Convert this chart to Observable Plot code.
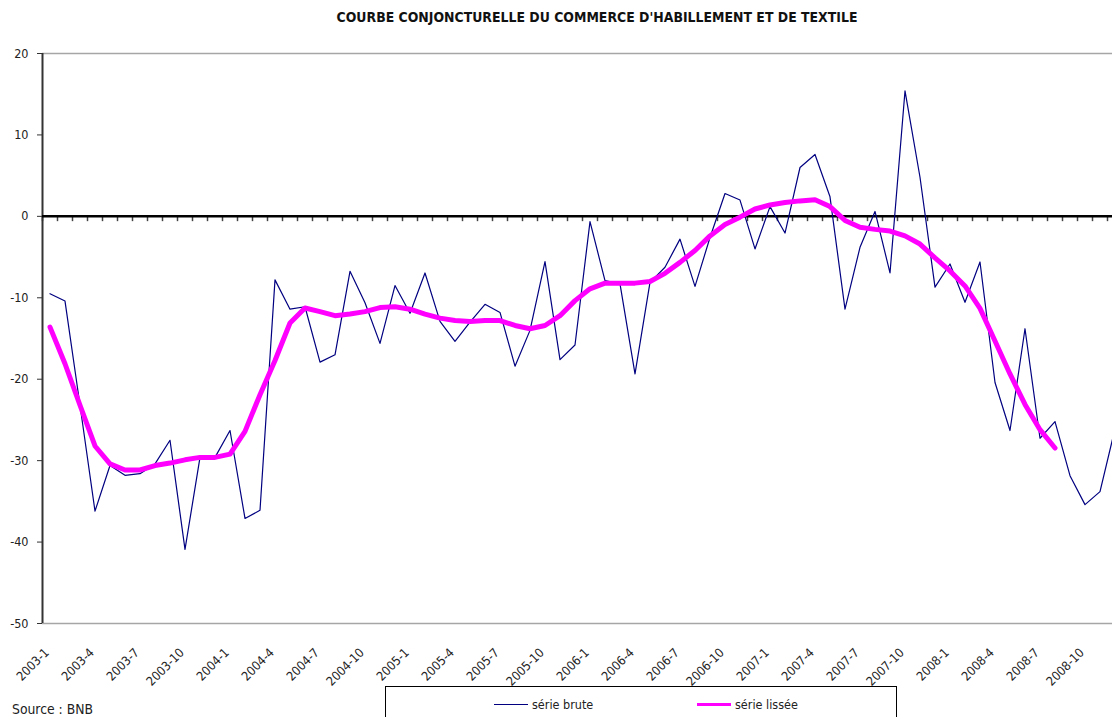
<!DOCTYPE html>
<html>
<head>
<meta charset="utf-8">
<script src="https://cdn.jsdelivr.net/npm/d3@7"></script>
<script src="https://cdn.jsdelivr.net/npm/@observablehq/plot@0.6"></script>
<style>
  html, body { margin: 0; padding: 0; background: white; overflow: hidden; }
  #wrap { position: relative; width: 1112px; height: 717px; }
  .narrow { font-family: "Liberation Sans Narrow", "Arial Narrow", "DejaVu Sans Condensed", sans-serif; }
  #title { position: absolute; left: 297px; top: 9px; width: 600px; text-align: center;
           font-weight: bold; font-size: 13.9px; color: #111; white-space: nowrap; }
  #chart { position: absolute; left: 0; top: 40px; }
  #source { position: absolute; left: 12px; top: 701px; font-size: 13.8px; color: #222; }
  #legend { position: absolute; left: 385px; top: 686px; width: 512px; height: 40px;
            border: 1px solid #000; box-sizing: border-box; font-size: 12.5px; color: #222; }
  .li { position: absolute; top: 10px; display: flex; align-items: center; }
  .sw { display: inline-block; width: 34px; margin-right: 4px; }
</style>
</head>
<body>
<div id="wrap">
  <div id="title" class="narrow">COURBE CONJONCTURELLE DU COMMERCE D'HABILLEMENT ET DE TEXTILE</div>
  <div id="chart"></div>
  <div id="source" class="narrow">Source : BNB</div>
  <div id="legend" class="narrow">
    <div class="li" style="left:108px"><span class="sw" style="border-top:1.5px solid #000080"></span>série brute</div>
    <div class="li" style="left:311px"><span class="sw" style="border-top:3px solid #ff00ff"></span>série lissée</div>
  </div>
</div>
<script>
// Categories: monthly, 2003-1 .. 2008-12
const years = [2003, 2004, 2005, 2006, 2007, 2008];
const monthNums = [1,2,3,4,5,6,7,8,9,10,11,12];
const months = years.flatMap(y => monthNums.map(m => `${y}-${m}`));

// Tick labels (every 3 months)
const tickLabels = ["2003-1","2003-4","2003-7","2003-10","2004-1","2004-4","2004-7","2004-10",
  "2005-1","2005-4","2005-7","2005-10","2006-1","2006-4","2006-7","2006-10",
  "2007-1","2007-4","2007-7","2007-10","2008-1","2008-4","2008-7","2008-10"];

// série brute
const brute = [
  -9.5, -10.4, -23.2, -36.2, -30.6, -31.8, -31.6, -30.4, -27.5, -40.9, -29.6, -29.6,
  -26.3, -37.1, -36.1, -7.8, -11.4, -11.1, -17.9, -17.0, -6.75, -10.6, -15.6, -8.5,
  -11.9, -6.95, -12.9, -15.35, -13.0, -10.8, -11.8, -18.4, -14.0, -5.55, -17.6, -15.8,
  -0.65, -7.9, -8.3, -19.35, -8.1, -6.25, -2.8, -8.6, -2.6, 2.8, 2.0, -4.0,
  1.2, -2.05, 6.0, 7.6, 2.4, -11.4, -3.8, 0.6, -6.95, 15.4, 4.8, -8.7,
  -5.85, -10.55, -5.6, -20.4, -26.3, -13.8, -27.25, -25.2, -31.85, -35.4, -33.8, -26.1
];

// série lissée (ends 2008-8)
const lissee = [
  -13.6, -18.1, -23.2, -28.2, -30.4, -31.15, -31.15, -30.6, -30.3, -29.9, -29.6, -29.6,
  -29.2, -26.4, -21.9, -17.7, -13.1, -11.25, -11.7, -12.2, -12.0, -11.7, -11.2, -11.1,
  -11.4, -12.0, -12.5, -12.8, -12.9, -12.8, -12.8, -13.4, -13.8, -13.4, -12.2, -10.35,
  -8.9, -8.2, -8.2, -8.2, -8.0, -7.0, -5.65, -4.2, -2.4, -1.0, -0.1, 0.9,
  1.4, 1.7, 1.9, 2.05, 1.2, -0.5, -1.35, -1.6, -1.8, -2.4, -3.4, -5.1,
  -6.7, -8.55, -11.3, -15.3, -19.35, -23.1, -26.2, -28.45
];

const yTicks = [20, 10, 0, -10, -20, -30, -40, -50];

// positions: category i centred at i + 0.5 on a linear month scale
const bruteData = brute.map((v, i) => ({t: i + 0.5, v, m: months[i]}));
const lisseeData = lissee.map((v, i) => ({t: i + 0.5, v, m: months[i]}));
const boundaries = months.map((m, i) => i);
const labelPos = tickLabels.map((l, k) => k * 3 + 0.5);

const W = 1112, marginLeft = 42;
const chart = Plot.plot({
  width: W,
  height: 645,
  marginLeft,
  marginRight: 0,
  marginTop: 13,
  marginBottom: 62,
  x: {type: "linear", domain: [0, (W - marginLeft) / 15], label: null},
  y: {domain: [-50, 20], label: null},
  style: {
    fontFamily: '"Liberation Sans Narrow", "Arial Narrow", "DejaVu Sans Condensed", sans-serif',
    fontSize: "12px",
    background: "white",
    color: "#222",
    overflow: "visible"
  },
  marks: [
    Plot.ruleY([20, -50], {stroke: "#a6a6a6", strokeWidth: 1.5}),
    Plot.ruleX(boundaries, {x: d => d, y1: 0, y2: -0.65, stroke: "#444", strokeWidth: 1.5}),
    Plot.ruleX([0], {stroke: "#333", strokeWidth: 2}),
    Plot.ruleY([0], {stroke: "#000", strokeWidth: 2.5}),
    Plot.axisY({ticks: yTicks, tickSize: 5, tickPadding: 9, tickFormat: d => String(d), label: null,
                stroke: "#333", fill: "#222", fontSize: 12.5}),
    Plot.axisX({ticks: labelPos, tickFormat: d => tickLabels[Math.round((d - 0.5) / 3)], label: null,
                tickRotate: -45, tickSize: 0, tickPadding: 27, dx: -3, fill: "#222", fontSize: 12.5}),
    Plot.line(bruteData, {x: "t", y: "v", stroke: "#000080", strokeWidth: 1.2, clip: true}),
    Plot.line(lisseeData, {x: "t", y: "v", stroke: "#ff00ff", strokeWidth: 5, strokeLinecap: "round", strokeLinejoin: "round"})
  ]
});
document.getElementById("chart").appendChild(chart);
</script>
</body>
</html>
